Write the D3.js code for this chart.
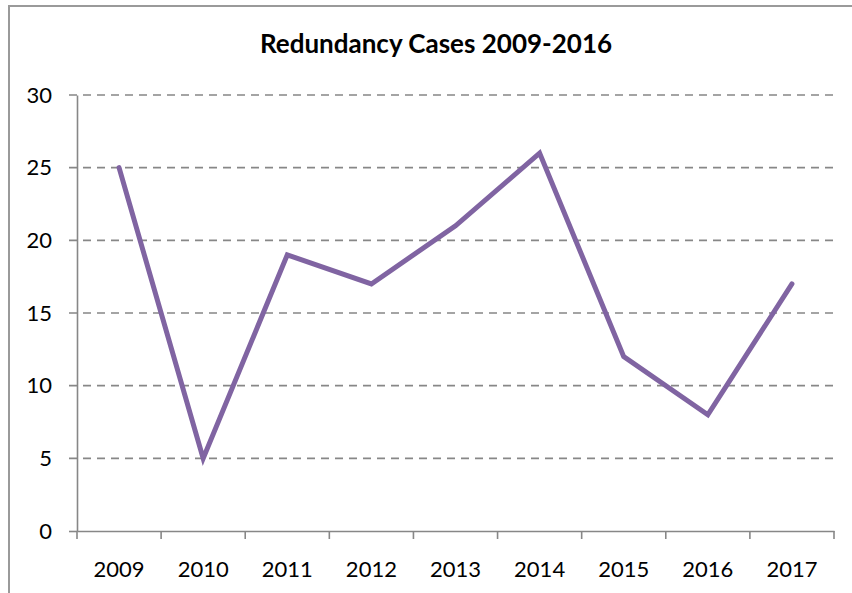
<!DOCTYPE html>
<html>
<head>
<meta charset="utf-8">
<script src="https://cdn.jsdelivr.net/npm/d3@7"></script>
<style>
  body { margin: 0; background: #fff; }
  svg { display: block; }
</style>
</head>
<body>
<svg id="chart" width="852" height="593"></svg>
<script>
// chart values
var years = ["2009", "2010", "2011", "2012", "2013", "2014", "2015", "2016", "2017"];
var cases = [25, 5, 19, 17, 21, 26, 12, 8, 17];
var yTicks = [0, 5, 10, 15, 20, 25, 30];
var titleText = "Redundancy Cases 2009-2016";

var svg = d3.select("#chart"),
    width = 852,
    height = 593;

var margin = { left: 77, right: 18, top: 95, bottom: 62 };

// outer chart frame (runs off the bottom/right of the picture)
svg.append("rect")
    .attr("x", 9)
    .attr("y", 6)
    .attr("width", width + 20)
    .attr("height", height + 20)
    .attr("fill", "#fff")
    .attr("stroke", "#9a9a9a")
    .attr("stroke-width", 2);

var x = d3.scaleBand()
    .domain(years)
    .range([margin.left, width - margin.right]);

var y = d3.scaleLinear()
    .domain([0, 30])
    .range([height - margin.bottom, margin.top]);

var g = svg.append("g");

// dashed gridlines
g.append("g").selectAll("line")
    .data(yTicks.filter(function (d) { return d > 0; }))
    .enter()
    .append("line")
    .attr("x1", margin.left - 8)
    .attr("x2", width - margin.right)
    .attr("y1", function (d) { return y(d); })
    .attr("y2", function (d) { return y(d); })
    .attr("stroke", "#878787")
    .attr("stroke-width", 1.6)
    .attr("stroke-dasharray", "8,6");

// y axis
var yAxis = g.append("g")
    .attr("transform", "translate(" + margin.left + ",0)")
    .call(d3.axisLeft(y).tickValues(yTicks).tickSize(8).tickPadding(17).tickSizeOuter(0));

// x axis, ticks on band edges
var xAxis = g.append("g")
    .attr("transform", "translate(0," + y(0) + ")")
    .call(d3.axisBottom(x).tickSize(0).tickPadding(30).tickSizeOuter(0));

var edges = years.map(function (d) { return x(d); }).concat([x.range()[1]]);
xAxis.selectAll(".edge")
    .data(edges)
    .enter()
    .append("line")
    .attr("class", "edge")
    .attr("x1", function (d) { return d; })
    .attr("x2", function (d) { return d; })
    .attr("y1", 0)
    .attr("y2", 8);

[yAxis, xAxis].forEach(function (ax) {
    ax.select(".domain").attr("stroke", "#878787").attr("stroke-width", 1.6);
    ax.selectAll("line").attr("stroke", "#878787").attr("stroke-width", 1.6);
    ax.selectAll("text")
        .attr("fill", "#000")
        .style("font-family", "Lato, 'Open Sans', sans-serif")
        .style("font-size", "22px");
});
yAxis.selectAll(".tick line").filter(function (d) { return d > 0; }).remove();

// the series line
var line = d3.line()
    .x(function (d, i) { return x(years[i]) + x.bandwidth() / 2; })
    .y(function (d) { return y(d); });

g.append("path")
    .datum(cases)
    .attr("fill", "none")
    .attr("stroke", "#8064a2")
    .attr("stroke-width", 5)
    .attr("stroke-linejoin", "miter")
    .attr("stroke-linecap", "round")
    .attr("d", line);

// title
svg.append("text")
    .attr("x", 436)
    .attr("y", 53)
    .attr("text-anchor", "middle")
    .style("font-family", "Lato, 'Open Sans', sans-serif")
    .style("font-weight", "bold")
    .style("font-size", "26px")
    .attr("fill", "#000")
    .text(titleText);
</script>
</body>
</html>
